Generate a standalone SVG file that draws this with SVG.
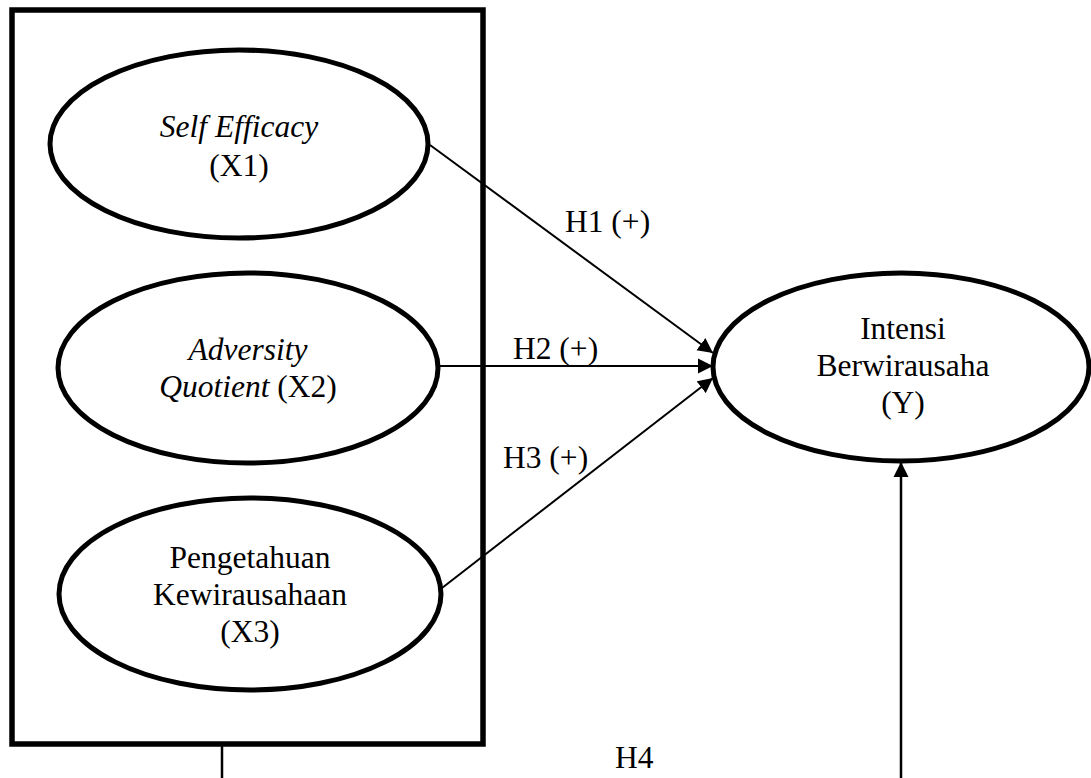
<svg xmlns="http://www.w3.org/2000/svg" width="1091" height="778" viewBox="0 0 1091 778">
<style>
.frame{fill:none;stroke:#000;stroke-width:5.5}
.node{fill:#fff;stroke:#000;stroke-width:5}
.t{font-family:"Liberation Serif","Times New Roman",serif;font-size:31.5px;fill:#000;text-anchor:middle}
.i{font-style:italic}
.lbl{font-family:"Liberation Serif","Times New Roman",serif;font-size:31.5px;fill:#000}
.edge{fill:none;stroke:#000;stroke-width:2}
.edge2{fill:none;stroke:#000;stroke-width:2.5}
</style>
<defs>
<marker id="ah" markerUnits="userSpaceOnUse" markerWidth="16" markerHeight="16" viewBox="0 0 16 16" refX="15" refY="8" orient="auto">
<path d="M0,0.5 L15,8 L0,15.5 z" fill="#000"/>
</marker>
</defs>
<rect width="1091" height="778" fill="#fff"/>
<g id="group-box">
<rect class="frame" x="12" y="10" width="471" height="734"/>
</g>
<g id="connectors">
<line class="edge" x1="430" y1="145" x2="713" y2="353" marker-end="url(#ah)"/>
<line class="edge" x1="438" y1="366" x2="713" y2="366" marker-end="url(#ah)"/>
<line class="edge" x1="442" y1="588" x2="713" y2="378" marker-end="url(#ah)"/>
<line class="edge2" x1="222" y1="746" x2="222" y2="778"/>
<line class="edge2" x1="901" y1="778" x2="901" y2="462" marker-end="url(#ah)"/>
<text class="lbl" x="565" y="232">H1 (+)</text>
<text class="lbl" x="513" y="359">H2 (+)</text>
<text class="lbl" x="503" y="468">H3 (+)</text>
<text class="lbl" x="615" y="768">H4</text>
</g>
<g id="x1">
<ellipse class="node" cx="239" cy="144" rx="189" ry="94"/>
<text class="t i" x="239" y="137">Self Efficacy</text>
<text class="t" x="239" y="176">(X1)</text>
</g>
<g id="x2">
<ellipse class="node" cx="248" cy="368" rx="190" ry="95"/>
<text class="t i" x="248" y="360">Adversity</text>
<text class="t" x="248" y="397"><tspan class="i">Quotient</tspan> (X2)</text>
</g>
<g id="x3">
<ellipse class="node" cx="250" cy="594" rx="191" ry="96"/>
<text class="t" x="250" y="568">Pengetahuan</text>
<text class="t" x="250" y="605">Kewirausahaan</text>
<text class="t" x="250" y="642">(X3)</text>
</g>
<g id="y">
<ellipse class="node" cx="901" cy="367" rx="188" ry="94"/>
<text class="t" x="903" y="339">Intensi</text>
<text class="t" x="903" y="376">Berwirausaha</text>
<text class="t" x="903" y="413">(Y)</text>
</g>
</svg>
